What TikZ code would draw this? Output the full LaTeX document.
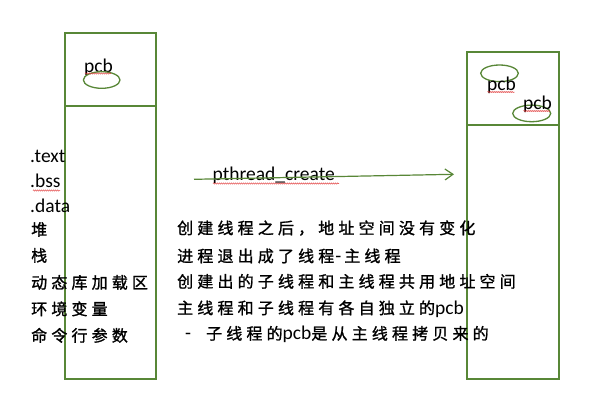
\documentclass[tikz,border=0pt]{standalone}
\usepackage{fontspec}
\usetikzlibrary{arrows.meta,decorations.pathmorphing}
\newfontfamily\latf{Carlito}
\newfontfamily\cjkf[LetterSpace=26,FakeBold=1.2]{Noto Sans CJK SC}
\newcommand\LatTxt[1]{{\latf\fontsize{19.5}{22}\selectfont #1}}
\newcommand\HanTxt[1]{{\cjkf\fontsize{16}{20}\selectfont #1}}
\definecolor{boxgreen}{RGB}{88,135,55}
\definecolor{spellred}{RGB}{225,60,60}
\tikzset{
  memline/.style={draw=boxgreen, line width=1.3pt},
  pcbring/.style={draw=boxgreen, line width=1.3pt},
  label/.style={inner sep=0pt, anchor=base west, text=black},
  squiggle/.style={draw=spellred, line width=0.5pt,
    decorate, decoration={snake, segment length=2pt, amplitude=0.6pt}},
}
\begin{document}
\begin{tikzpicture}[x=1pt, y=-1pt]
\useasboundingbox[fill=white] (0,0) rectangle (602,394);

% process address space (before)
\coordinate (lbTL) at (65,33);
\coordinate (lbBR) at (156,379);
\draw[memline] (lbTL) rectangle (lbBR);
\draw[memline] (65,106) coordinate (lbdivA) -- (156,106) coordinate (lbdivB);
\node[label] (pcbL) at (84,72) {\LatTxt{pcb}};
\draw[pcbring] (101.7,80) ellipse [x radius=18.3, y radius=8.3];
\draw[squiggle] (85,73.5) -- (111,73.5);

% process address space (after)
\coordinate (rbTL) at (467,52);
\coordinate (rbBR) at (559,379);
\draw[memline] (rbTL) rectangle (rbBR);
\draw[memline] (467,125) coordinate (rbdivA) -- (559,125) coordinate (rbdivB);
\draw[pcbring] (499.5,73.3) ellipse [x radius=18.8, y radius=8.3];
\node[label] (pcbR1) at (487,90) {\LatTxt{pcb}};
\draw[squiggle] (487.5,92) -- (514.5,92);
\draw[pcbring] (531.7,113.4) ellipse [x radius=19, y radius=8.3];
\node[label] (pcbR2) at (523,109) {\LatTxt{pcb}};
\draw[squiggle] (523.5,111) -- (550,111);

% thread creation arrow
\coordinate (arrA) at (194,179.3);
\coordinate (arrB) at (454,174.3);
\node[label] (ptc) at (212.5,180.5) {\LatTxt{pthread\_create}};
\draw[squiggle] (213,183.5) -- (339,183.5);
\draw[draw=boxgreen, line width=1.2pt,
      -{Straight Barb[length=8pt,width=11pt,line width=1.2pt]}] (arrA) -- (arrB);

% segments of the address space
\node[label] (sText) at (30,162) {\LatTxt{.text}};
\node[label] (sBss)  at (30,187) {\LatTxt{.bss}};
\draw[squiggle] (33,190.5) -- (60,190.5);
\node[label] (sData) at (30,212) {\LatTxt{.data}};
\node[label] (sHeap) at (31,235.5) {\HanTxt{堆}};
\node[label] (sStack) at (31,261.5) {\HanTxt{栈}};
\node[label] (sDyn) at (31,288.5) {\HanTxt{动态库加载区}};
\node[label] (sEnv) at (31,315) {\HanTxt{环境变量}};
\node[label] (sArgs) at (31,341.5) {\HanTxt{命令行参数}};

% notes
\node[label] (n1) at (177,234) {\HanTxt{创建线程之后，地址空间没有变化}};
\node[label] (n2) at (177,262) {\HanTxt{进程退出成了线程}\hspace{1pt}\LatTxt{-}\hspace{3pt}\HanTxt{主线程}};
\node[label] (n3) at (177,287.5) {\HanTxt{创建出的子线程和主线程共用地址空间}};
\node[label] (n4) at (177,314) {\HanTxt{主线程和子线程有各自独立的}\LatTxt{pcb}};
\node[label] (n5) at (185,339.5) {\LatTxt{-}\hspace{15pt}\HanTxt{子线程的}\LatTxt{pcb}\HanTxt{是从主线程拷贝来的}};
\end{tikzpicture}
\end{document}
